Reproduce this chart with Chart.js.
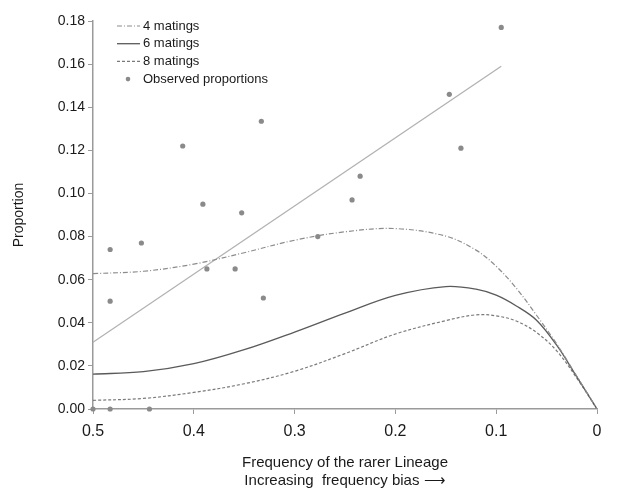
<!DOCTYPE html>
<html lang="en">
<head>
    <meta charset="UTF-8">
    <title>Proportion vs frequency of the rarer lineage</title>
    <script src="https://cdn.jsdelivr.net/npm/chart.js"></script>
    <style>
        html, body { margin: 0; padding: 0; background: #fff; }
        #wrap { width: 619px; height: 490px; }
    </style>
</head>
<body>
    <div id="wrap"><canvas id="myChart"></canvas></div>
    <script>
        // frequency of the rarer lineage (x) for the model curves
        const curveX = [0.5, 0.45, 0.4, 0.35, 0.3, 0.25, 0.2, 0.15, 0.12, 0.1, 0.08, 0.06, 0.04, 0.02, 0];
        const mating4 = [0.0628, 0.0639, 0.0672, 0.0725, 0.0783, 0.0822, 0.0837, 0.0802, 0.0737, 0.0662, 0.0560, 0.0435, 0.0302, 0.0152, 0];
        const mating6 = [0.0162, 0.0173, 0.0210, 0.0275, 0.0357, 0.0445, 0.0527, 0.0568, 0.0556, 0.0528, 0.0478, 0.0412, 0.0296, 0.0149, 0];
        const mating8 = [0.0040, 0.0049, 0.0077, 0.0117, 0.0175, 0.0257, 0.0348, 0.0410, 0.0437, 0.0432, 0.0408, 0.0355, 0.0270, 0.0143, 0];

        // observed proportions
        const obsX = [0.095, 0.1465, 0.135, 0.333, 0.411, 0.391, 0.3525, 0.235, 0.243, 0.483, 0.452, 0.483, 0.387, 0.359, 0.331, 0.277, 0.5, 0.483, 0.444];
        const obsY = [0.177, 0.146, 0.121, 0.1335, 0.122, 0.095, 0.091, 0.108, 0.097, 0.074, 0.077, 0.050, 0.065, 0.065, 0.0515, 0.080, 0, 0, 0];

        // fitted line through the observations
        const fitX = [0.5, 0.095];
        const fitY = [0.031, 0.159];

        const xTicks = [0.5, 0.4, 0.3, 0.2, 0.1, 0];
        const yTicks = [0, 0.02, 0.04, 0.06, 0.08, 0.10, 0.12, 0.14, 0.16, 0.18];

        const pts = (xs, ys) => xs.map((x, i) => ({ x: x, y: ys[i] }));
        const FONT = "'Liberation Sans', Arial, sans-serif";

        // legend drawn inside the plot, top left
        const innerLegend = {
            id: 'innerLegend',
            afterDraw(chart) {
                const c = chart.ctx;
                const left = chart.chartArea.left + 24;
                let y = 26;
                c.save();
                c.font = '13px ' + FONT;
                c.textBaseline = 'middle';
                chart.data.datasets.forEach(ds => {
                    if (!ds.legend) return;
                    c.strokeStyle = ds.borderColor;
                    c.fillStyle = ds.backgroundColor || ds.borderColor;
                    if (ds.showLine === false) {
                        c.beginPath();
                        c.arc(left + 11, y, 2.3, 0, Math.PI * 2);
                        c.fill();
                    } else {
                        c.lineWidth = ds.borderWidth;
                        c.setLineDash(ds.borderDash || []);
                        c.beginPath();
                        c.moveTo(left, y);
                        c.lineTo(left + 23, y);
                        c.stroke();
                        c.setLineDash([]);
                    }
                    c.fillStyle = '#1a1a1a';
                    c.fillText(ds.label, left + 26, y);
                    y += 17.7;
                });
                c.restore();
            }
        };

        const ctx = document.getElementById('myChart');
        const myChart = new Chart(ctx, {
            type: 'scatter',
            data: {
                datasets: [
                    {
                        label: '4 matings', legend: true,
                        data: pts(curveX, mating4), showLine: true,
                        borderColor: '#8c8c8c', borderWidth: 1.2, borderDash: [5, 2, 1, 2],
                        pointRadius: 0, tension: 0.35
                    },
                    {
                        label: '6 matings', legend: true,
                        data: pts(curveX, mating6), showLine: true,
                        borderColor: '#5a5a5a', borderWidth: 1.3,
                        pointRadius: 0, tension: 0.35
                    },
                    {
                        label: '8 matings', legend: true,
                        data: pts(curveX, mating8), showLine: true,
                        borderColor: '#7a7a7a', borderWidth: 1.2, borderDash: [3, 2],
                        pointRadius: 0, tension: 0.35
                    },
                    {
                        label: 'Observed proportions', legend: true,
                        data: pts(obsX, obsY), showLine: false,
                        borderColor: '#8a8a8a', backgroundColor: '#8a8a8a',
                        pointRadius: 2.6, pointBorderWidth: 0, clip: false
                    },
                    {
                        label: 'fit', legend: false,
                        data: pts(fitX, fitY), showLine: true,
                        borderColor: '#b2b2b2', borderWidth: 1.3,
                        pointRadius: 0
                    }
                ]
            },
            options: {
                responsive: true,
                maintainAspectRatio: false,
                animation: false,
                layout: { padding: { top: 21, right: 22, left: 11 } },
                plugins: {
                    legend: { display: false },
                    tooltip: { enabled: false }
                },
                scales: {
                    x: {
                        type: 'linear',
                        reverse: true,
                        min: 0, max: 0.5,
                        afterBuildTicks: s => { s.ticks = xTicks.map(v => ({ value: v })); },
                        afterFit: s => { s.height = 81; },
                        border: { color: '#9a9a9a', width: 1.5 },
                        grid: { drawOnChartArea: false, tickLength: 5, color: '#9a9a9a' },
                        ticks: {
                            color: '#1a1a1a', padding: 8,
                            font: { family: FONT, size: 16 },
                            callback: v => v === 0 ? '0' : v.toFixed(1)
                        },
                        title: {
                            display: true,
                            text: ['Frequency of the rarer Lineage', 'Increasing  frequency bias \u27F6'],
                            color: '#1a1a1a',
                            font: { family: FONT, size: 15, lineHeight: 1.2 },
                            padding: { top: 6, bottom: 0 }
                        }
                    },
                    y: {
                        min: 0, max: 0.18,
                        afterBuildTicks: s => { s.ticks = yTicks.map(v => ({ value: v })); },
                        afterFit: s => { s.width = 82; },
                        border: { color: '#9a9a9a', width: 1.5 },
                        grid: { drawOnChartArea: false, tickLength: 5, color: '#9a9a9a' },
                        ticks: {
                            color: '#1a1a1a', padding: 3,
                            font: { family: FONT, size: 14 },
                            callback: v => v.toFixed(2)
                        },
                        title: {
                            display: true,
                            text: 'Proportion',
                            color: '#1a1a1a',
                            font: { family: FONT, size: 14 },
                            padding: { top: 0, bottom: 2 }
                        }
                    }
                }
            },
            plugins: [innerLegend]
        });
    </script>
</body>
</html>
